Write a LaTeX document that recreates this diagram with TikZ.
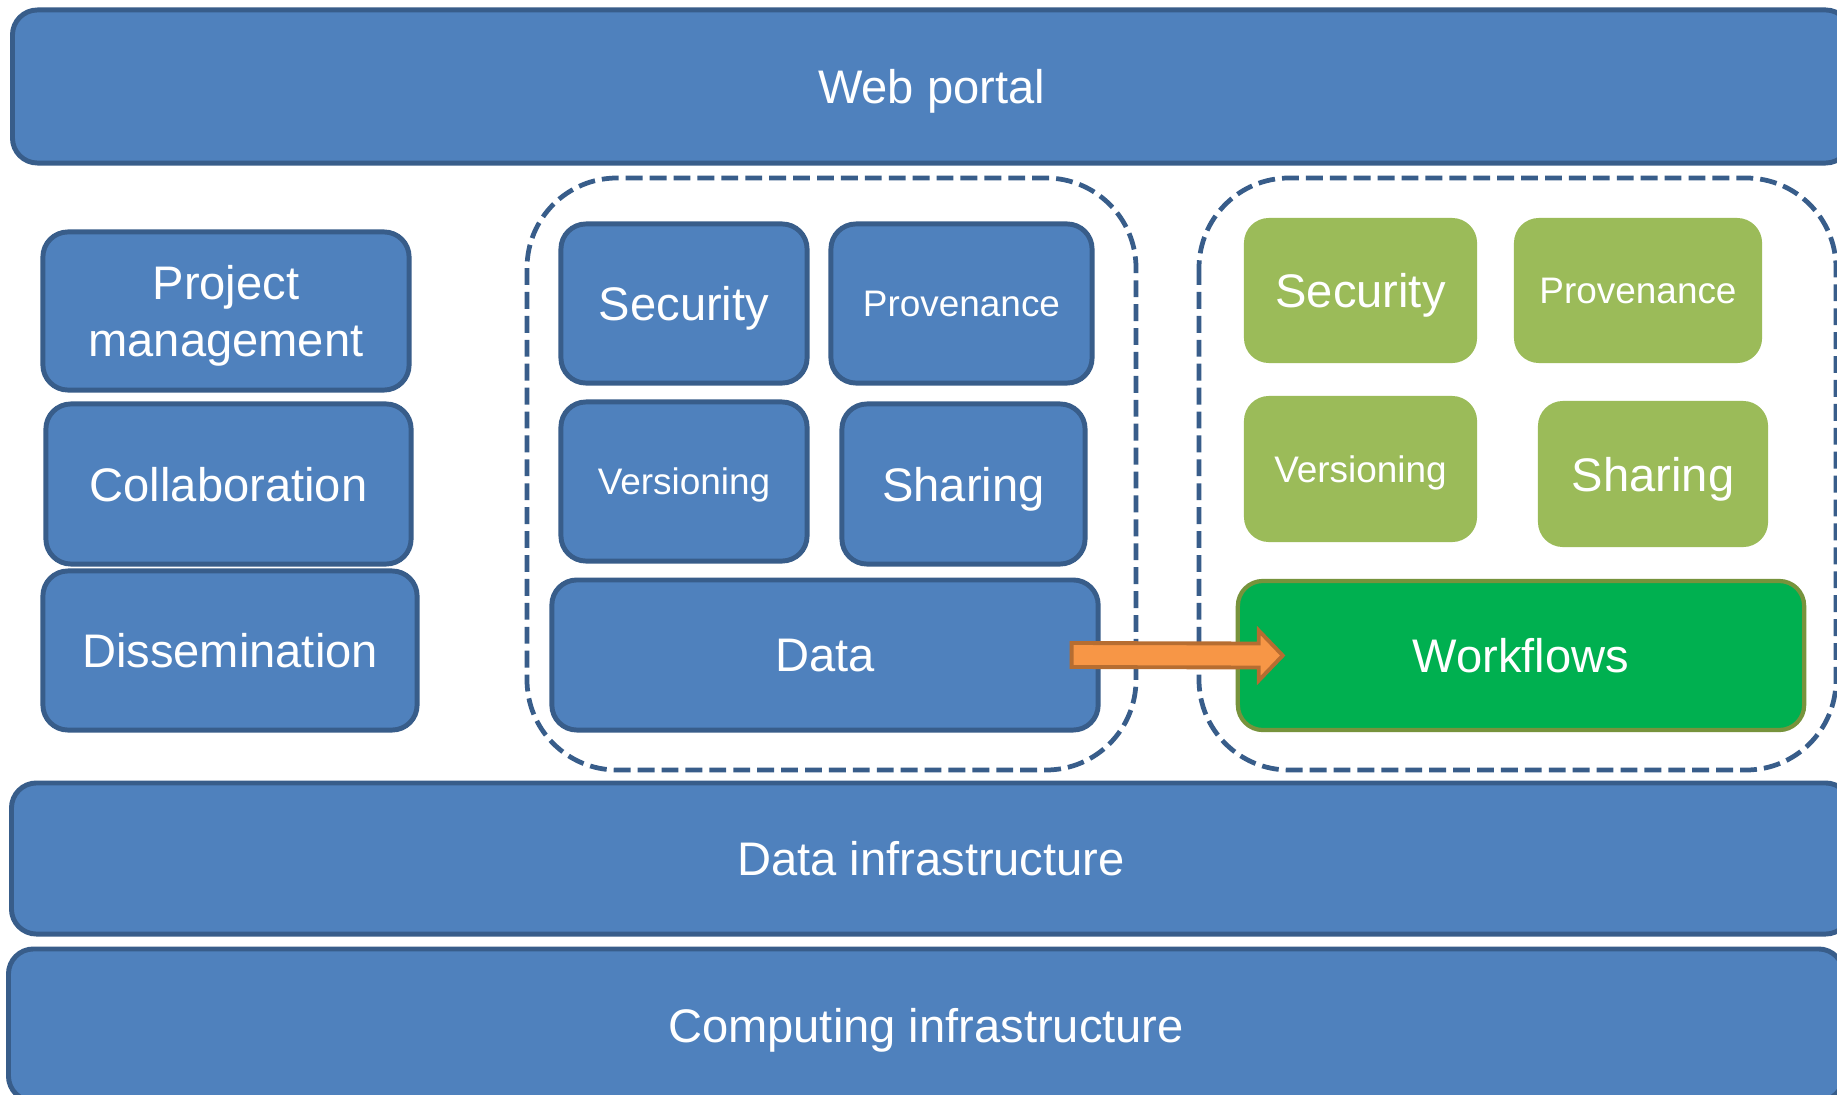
\documentclass[tikz,border=0pt]{standalone}
\usepackage{fontspec}
\setmainfont{Liberation Sans}
\usepackage{xcolor}
\usepackage{tikz}
\usetikzlibrary{calc}
\definecolor{boxblue}{HTML}{4F81BD}
\definecolor{edgeblue}{HTML}{385D8A}
\definecolor{leaf}{HTML}{9BBB59}
\definecolor{flowgreen}{HTML}{00B050}
\definecolor{olive}{HTML}{77933C}
\definecolor{orange}{HTML}{F79646}
\definecolor{rust}{HTML}{B66D31}
\tikzset{
  blk/.style={draw=edgeblue, fill=boxblue, line width=1.4pt, rounded corners=0.25cm,
    text=white, align=center, text depth=0pt, font=\fontsize{13.4}{16}\selectfont},
  gblk/.style={fill=leaf, rounded corners=0.25cm, text=white, align=center,
    text depth=0pt, font=\fontsize{13.4}{16}\selectfont},
  small/.style={font=\fontsize{10.5}{12.6}\selectfont},
  group/.style={draw=edgeblue, line width=1.35pt, dash pattern=on 4.8pt off 2pt,
    rounded corners=0.9cm},
  flow/.style={draw=rust, fill=orange, line width=1.1pt}
}
\begin{document}
\begin{tikzpicture}[x=0.01cm,y=-0.01cm]
\clip (0,0) rectangle (1837,1094);
\fill[white] (0,0) rectangle (1837,1094);
% top and bottom layers
\node[blk, minimum width=18.37cm, minimum height=1.53cm] (web) at (931.5,86.5) {Web portal};
\node[blk, minimum width=18.38cm, minimum height=1.51cm] (dinf) at (931,858.5) {Data infrastructure};
\node[blk, minimum width=18.34cm, minimum height=1.52cm] (cinf) at (926,1025) {Computing infrastructure};

% left column
\node[blk, minimum width=3.66cm, minimum height=1.58cm] (pm) at (226,311) {Project\\management};
\node[blk, minimum width=3.65cm, minimum height=1.60cm] (collab) at (228.5,484) {Collaboration};
\node[blk, minimum width=3.74cm, minimum height=1.59cm] (dissem) at (230,650.5) {Dissemination};

% data group
\draw[group] (527,178) rectangle (1136,770);
\node[blk, minimum width=2.46cm, minimum height=1.59cm] (dsec) at (684,303.5) {Security};
\node[blk, small, minimum width=2.61cm, minimum height=1.59cm] (dprov) at (961.5,303.5) {Provenance};
\node[blk, small, minimum width=2.46cm, minimum height=1.59cm] (dver) at (684,481.5) {Versioning};
\node[blk, minimum width=2.43cm, minimum height=1.60cm] (dshr) at (963.5,484) {Sharing};
\node[blk, minimum width=5.46cm, minimum height=1.50cm] (data) at (825,655) {Data};

% workflow group
\draw[group] (1199,178) rectangle (1836,770);
\node[gblk, minimum width=2.33cm, minimum height=1.45cm] (wsec) at (1360.5,290.5) {Security};
\node[gblk, small, minimum width=2.48cm, minimum height=1.45cm] (wprov) at (1638,290.5) {Provenance};
\node[gblk, small, minimum width=2.33cm, minimum height=1.46cm] (wver) at (1360.5,469) {Versioning};
\node[gblk, minimum width=2.30cm, minimum height=1.46cm] (wshr) at (1653,474) {Sharing};
\node[blk, draw=olive, fill=flowgreen, line width=1.2pt, minimum width=5.66cm, minimum height=1.49cm] (wf) at (1521,655.5) {Workflows};

% arrow data -> workflows
\coordinate (atail) at ($(data.east)+(-29,0)$);
\coordinate (atip) at ($(wf.west)+(47,0)$);
\draw[flow] ($(atail)+(0,-12)$) -- ($(atip)+(-24,-12)$) -- ($(atip)+(-24,-25)$) -- (atip)
  -- ($(atip)+(-24,25)$) -- ($(atip)+(-24,12)$) -- ($(atail)+(0,12)$) -- cycle;
\end{tikzpicture}
\end{document}
